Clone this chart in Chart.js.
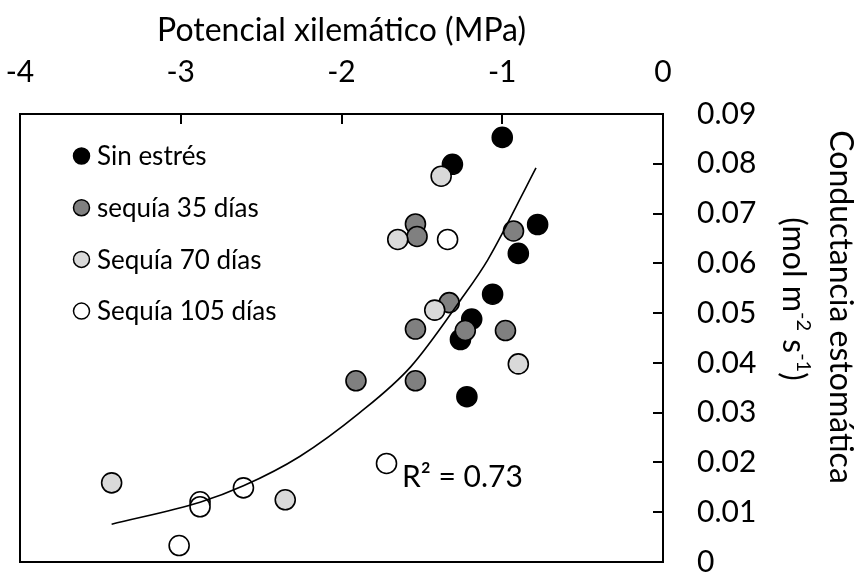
<!DOCTYPE html>
<html>
<head>
<meta charset="utf-8">
<script src="https://cdn.jsdelivr.net/npm/chart.js@4.4.1/dist/chart.umd.min.js"></script>
<style>
  html, body { margin: 0; padding: 0; background: #fff; }
  #wrap { width: 861px; height: 577px; }
</style>
</head>
<body>
<div id="wrap"><canvas id="myChart" width="861" height="577"></canvas></div>
<script>
// values (x = MPa, y = mol m-2 s-1)
var sinX = [-1.00, -1.31, -0.78, -0.90, -1.06, -1.19, -1.26, -1.22];
var sinY = [0.0853, 0.0799, 0.0678, 0.0620, 0.0538, 0.0488, 0.0447, 0.0332];

var s35X = [-1.54, -1.53, -0.93, -1.33, -1.54, -1.23, -0.98, -1.54, -1.91];
var s35Y = [0.0679, 0.0654, 0.0665, 0.0521, 0.0468, 0.0465, 0.0465, 0.0364, 0.0364];

var s70X = [-1.38, -1.65, -1.42, -0.90, -3.43, -2.35];
var s70Y = [0.0775, 0.0648, 0.0506, 0.0398, 0.0159, 0.0125];

var s105X = [-1.34, -1.72, -2.61, -2.88, -2.88, -3.01];
var s105Y = [0.0648, 0.0198, 0.0149, 0.0121, 0.0111, 0.0033];

// trend line
var trendX = [-3.43, -2.88, -2.61, -2.26, -1.89, -1.57, -1.26, -1.09, -0.79];
var trendY = [0.0076, 0.0120, 0.0153, 0.0212, 0.0299, 0.0392, 0.0526, 0.0607, 0.0792];

var seriesNames = ["Sin estrés", "sequía 35 días", "Sequía 70 días", "Sequía 105 días"];
var xTicks = [-4, -3, -2, -1, 0];
var yTicks = [0, 0.01, 0.02, 0.03, 0.04, 0.05, 0.06, 0.07, 0.08, 0.09];
var xTitle = "Potencial xilemático (MPa)";
var yTitle = "Conductancia estomática";
// unit line: [text, superscript?]
var yUnit = [["(mol m", false], ["-2", true], [" s", false], ["-1", true], [")", false]];
var r2Text = "R\u00B2 = 0.73";

var FONT = "Lato, 'Open Sans', sans-serif";

function pts(xs, ys) {
   var out = [];
   for (var i = 0; i < xs.length; i++) out.push({x: xs[i], y: ys[i]});
   return out;
}

function dot(label, xs, ys, fill, order) {
   return {
      type: 'scatter',
      label: label,
      data: pts(xs, ys),
      backgroundColor: fill,
      borderColor: '#000',
      borderWidth: 1.6,
      pointRadius: 10,
      pointHoverRadius: 10,
      order: order
   };
}

// box around the plot + legend + R² + right hand title
var extras = {
   id: 'extras',
   afterDraw: function(chart) {
      var ctx = chart.ctx;
      var a = chart.chartArea;
      ctx.save();
      ctx.strokeStyle = '#000';
      ctx.lineWidth = 2;
      ctx.strokeRect(a.left, a.top, a.right - a.left, a.bottom - a.top);

      // legend
      ctx.font = "26px " + FONT;
      ctx.textBaseline = 'middle';
      ctx.textAlign = 'left';
      for (var i = 0; i < 4; i++) {
         var ds = chart.data.datasets[i];
         var cy = 156 + i * 51.7;
         ctx.beginPath();
         ctx.arc(81.5, cy, 8, 0, Math.PI * 2);
         ctx.fillStyle = ds.backgroundColor;
         ctx.fill();
         ctx.lineWidth = 1.5;
         ctx.strokeStyle = '#000';
         ctx.stroke();
         ctx.fillStyle = '#000';
         ctx.fillText(ds.label, 97, cy + 1);
      }

      // R²
      ctx.font = "30px " + FONT;
      ctx.fillText(r2Text, 402, 477);

      // y title, read top to bottom
      ctx.translate(816, 305);
      ctx.rotate(Math.PI / 2);
      ctx.textAlign = 'center';
      ctx.font = "32px " + FONT;
      ctx.fillText(yTitle, 2, -24);

      // unit line with raised exponents
      var big = "32px " + FONT, small = "20px " + FONT;
      var total = 0, j;
      for (j = 0; j < yUnit.length; j++) {
         ctx.font = yUnit[j][1] ? small : big;
         total += ctx.measureText(yUnit[j][0]).width;
      }
      ctx.textAlign = 'left';
      var cx = -6 - total / 2;
      for (j = 0; j < yUnit.length; j++) {
         ctx.font = yUnit[j][1] ? small : big;
         ctx.fillText(yUnit[j][0], cx, yUnit[j][1] ? 13 : 23);
         cx += ctx.measureText(yUnit[j][0]).width;
      }
      ctx.restore();
   }
};

var ctx = document.getElementById("myChart").getContext('2d');
var chart = new Chart(ctx, {
   data: {
      datasets: [
         dot(seriesNames[0], sinX, sinY, '#000000', 4),
         dot(seriesNames[1], s35X, s35Y, '#808080', 3),
         dot(seriesNames[2], s70X, s70Y, '#d9d9d9', 2),
         dot(seriesNames[3], s105X, s105Y, '#ffffff', 1),
         {
            type: 'line',
            label: 'trend',
            data: pts(trendX, trendY),
            borderColor: '#000',
            borderWidth: 1.6,
            pointRadius: 0,
            fill: false,
            cubicInterpolationMode: 'monotone',
            order: 0
         }
      ]
   },
   options: {
      responsive: false,
      animation: false,
      devicePixelRatio: 1,
      layout: { padding: { left: 20, bottom: 15, top: 0, right: 0 } },
      plugins: { legend: { display: false }, tooltip: { enabled: false } },
      scales: {
         x: {
            type: 'linear',
            position: 'top',
            min: xTicks[0],
            max: xTicks[xTicks.length - 1],
            afterBuildTicks: function(s) { s.ticks = xTicks.map(function(v) { return {value: v}; }); },
            afterFit: function(s) { s.height = 114; s.paddingLeft = 0; s.paddingRight = 0; },
            ticks: {
               color: '#000',
               font: { family: FONT, size: 30 },
               padding: 34,
               maxRotation: 0,
               callback: function(v) { return String(v); }
            },
            grid: { drawOnChartArea: false, tickLength: -10, color: '#000', lineWidth: 2 },
            border: { display: true, color: '#000', width: 2 },
            title: {
               display: true,
               text: xTitle,
               color: '#000',
               font: { family: FONT, size: 32 },
               padding: { top: 11, bottom: 0 }
            }
         },
         y: {
            type: 'linear',
            position: 'right',
            min: yTicks[0],
            max: yTicks[yTicks.length - 1],
            afterBuildTicks: function(s) { s.ticks = yTicks.map(function(v) { return {value: v}; }); },
            afterFit: function(s) { s.width = 198; s.paddingTop = 0; s.paddingBottom = 0; },
            ticks: {
               color: '#000',
               font: { family: FONT, size: 30 },
               padding: 44,
               callback: function(v) { return v === 0 ? '0' : v.toFixed(2); }
            },
            grid: { drawOnChartArea: false, tickLength: -10, color: '#000', lineWidth: 2 },
            border: { display: true, color: '#000', width: 2 }
         }
      }
   },
   plugins: [extras]
});
</script>
</body>
</html>
